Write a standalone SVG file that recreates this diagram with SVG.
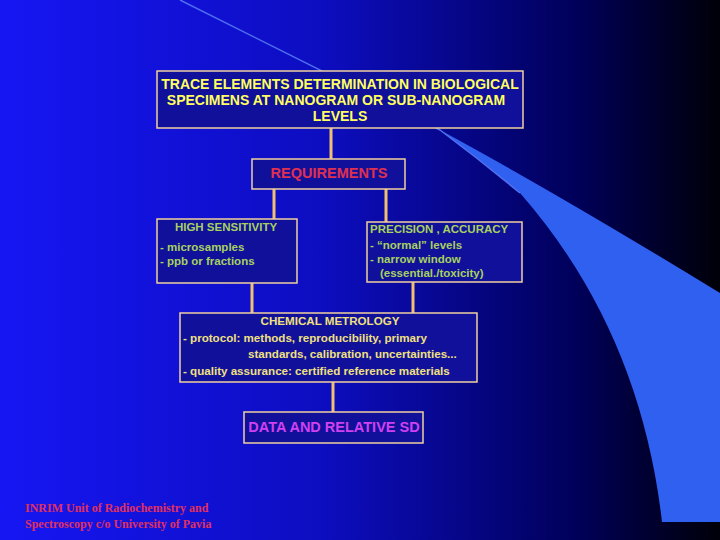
<svg xmlns="http://www.w3.org/2000/svg" width="720" height="540" viewBox="0 0 720 540">
<defs>
<linearGradient id="bg" x1="0" y1="0" x2="1" y2="0">
<stop offset="0" stop-color="#1616f4"/>
<stop offset="0.45" stop-color="#0d0dc0"/>
<stop offset="0.8" stop-color="#00005a"/>
<stop offset="1" stop-color="#000008"/>
</linearGradient>
<style>
.box{fill:#10109a;stroke:#f0d0a0;stroke-width:1.5}
.con{stroke:#f0c070;stroke-width:3;fill:none}
text{font-family:"Liberation Sans",Arial,sans-serif;font-weight:bold}
.t{fill:#ffff60;font-size:14px;text-anchor:middle}
.g{fill:#a8d060;font-size:11.5px}
.c{fill:#f0e080;font-size:11.6px}
</style>
</defs>
<rect width="720" height="540" fill="url(#bg)"/>
<path d="M180,0 Q320,70 440,130 Q560,195 720,293 L720,522 L662,522 Q640,330 520,193 Q480,160 440,130 Q320,70 180,0 Z" fill="#3060f0"/>
<path d="M180,0 Q320,70 440,130 Q480,160 520,193" fill="none" stroke="#5070f0" stroke-width="1.5"/>
<g id="connectors">
<line class="con" x1="331" y1="128" x2="331" y2="159"/>
<line class="con" x1="274" y1="189" x2="274" y2="219"/>
<line class="con" x1="386" y1="189" x2="386" y2="222"/>
<line class="con" x1="252" y1="283" x2="252" y2="313"/>
<line class="con" x1="413" y1="282" x2="413" y2="313"/>
<line class="con" x1="333" y1="382" x2="333" y2="412"/>
</g>
<g id="top">
<rect class="box" x="157" y="71" width="366" height="57"/>
<text class="t" x="340" y="89">TRACE ELEMENTS DETERMINATION IN BIOLOGICAL</text>
<text class="t" x="336" y="105">SPECIMENS AT NANOGRAM  OR SUB-NANOGRAM</text>
<text class="t" x="340" y="121">LEVELS</text>
</g>
<g id="req">
<rect class="box" x="252" y="159" width="153" height="30"/>
<text x="329" y="178" fill="#e03050" font-size="14.5" text-anchor="middle">REQUIREMENTS</text>
</g>
<g id="high">
<rect class="box" x="157" y="219" width="140" height="64"/>
<text class="g" x="226" y="231" text-anchor="middle">HIGH SENSITIVITY</text>
<text class="g" x="160" y="251">- microsamples</text>
<text class="g" x="160" y="265">- ppb or fractions</text>
</g>
<g id="prec">
<rect class="box" x="367" y="222" width="155" height="60"/>
<text class="g" x="370" y="233">PRECISION , ACCURACY</text>
<text class="g" x="370" y="249">- “normal” levels</text>
<text class="g" x="370" y="263">-  narrow window</text>
<text class="g" x="380" y="277">(essential./toxicity)</text>
</g>
<g id="chem">
<rect class="box" x="180" y="313" width="297" height="69"/>
<text class="c" x="330" y="325" text-anchor="middle">CHEMICAL  METROLOGY</text>
<text class="c" x="183" y="342">- protocol: methods, reproducibility, primary</text>
<text class="c" x="248" y="358">standards, calibration,  uncertainties...</text>
<text class="c" x="183" y="375">- quality assurance: certified reference materials</text>
</g>
<g id="data">
<rect class="box" x="244" y="412" width="179" height="31"/>
<text x="334" y="432" fill="#d040f0" font-size="14.5" text-anchor="middle">DATA AND RELATIVE SD</text>
</g>
<g id="footer">
<text x="25" y="512" fill="#e03060" font-size="12" style="font-family:'Liberation Serif',serif">INRIM Unit of Radiochemistry and</text>
<text x="25" y="528" fill="#e03060" font-size="12" style="font-family:'Liberation Serif',serif">Spectroscopy c/o University of Pavia</text>
</g>
</svg>
